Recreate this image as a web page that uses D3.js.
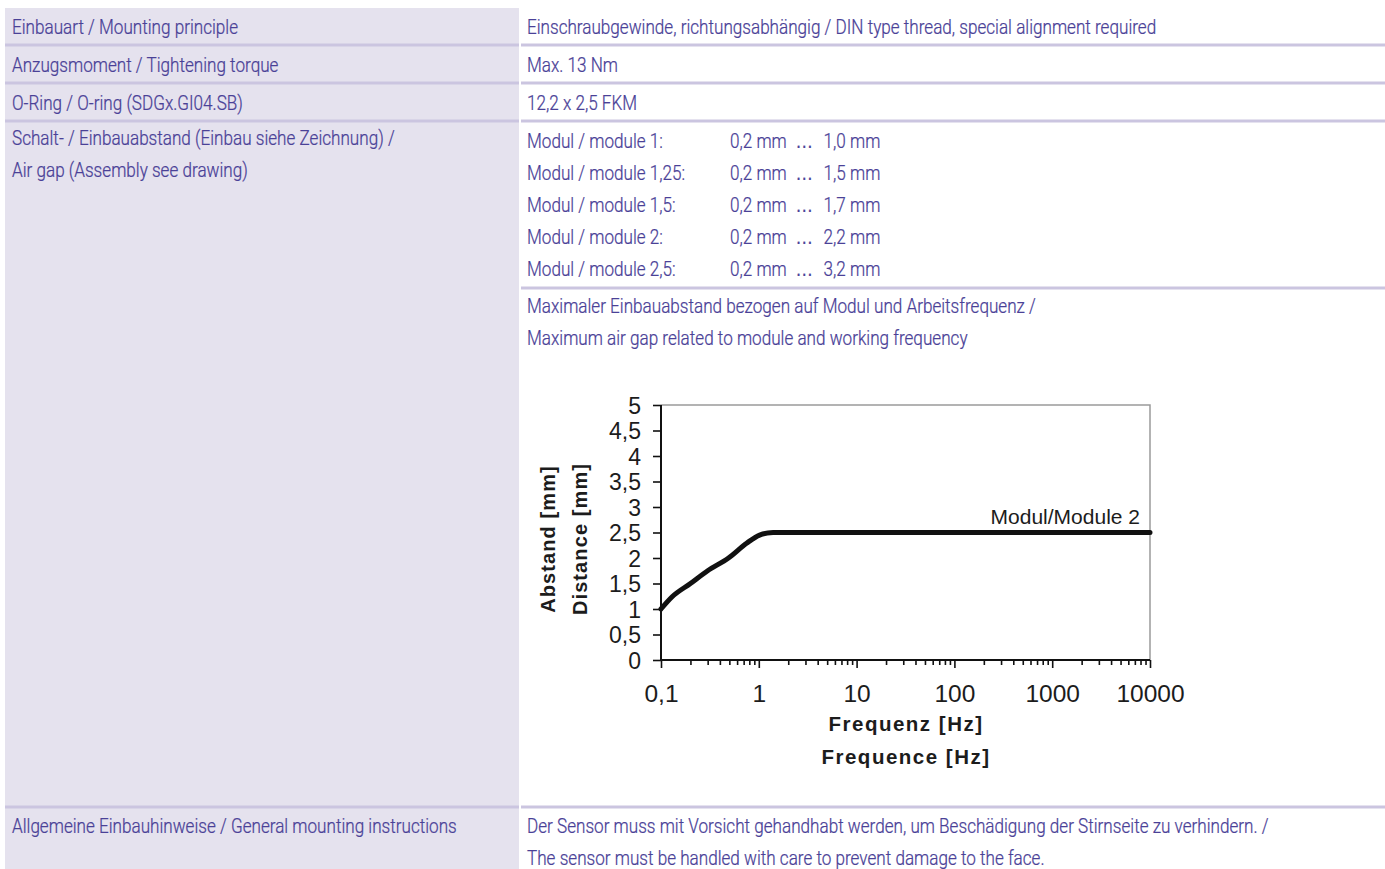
<!DOCTYPE html>
<html>
<head>
<meta charset="utf-8">
<script src="https://cdn.jsdelivr.net/npm/d3@7"></script>
<style>
  html, body { margin: 0; padding: 0; background: #fff; }
  svg { display: block; }
  .cell { font-family: Roboto, "Liberation Sans", sans-serif; font-weight: 300; font-size: 20px; fill: #4a4197; stroke: #4a4197; stroke-width: 0.25; }
  .chart text { font-family: "Liberation Sans", Arial, sans-serif; fill: #1c1c1c; }
</style>
</head>
<body>
<svg width="1385" height="869"></svg>
<script>
// table content
const rowLabels = [
  ["Einbauart / Mounting principle"],
  ["Anzugsmoment / Tightening torque"],
  ["O-Ring / O-ring (SDGx.GI04.SB)"],
  ["Schalt- / Einbauabstand (Einbau siehe Zeichnung) /", "Air gap (Assembly see drawing)"],
  ["Allgemeine Einbauhinweise / General mounting instructions"]
];
const rowValues = [
  ["Einschraubgewinde, richtungsabhängig / DIN type thread, special alignment required"],
  ["Max. 13 Nm"],
  ["12,2 x 2,5 FKM"],
  [],
  ["Der Sensor muss mit Vorsicht gehandhabt werden, um Beschädigung der Stirnseite zu verhindern. /",
   "The sensor must be handled with care to prevent damage to the face."]
];
const moduleNames = ["Modul / module 1:", "Modul / module 1,25:", "Modul / module 1,5:", "Modul / module 2:", "Modul / module 2,5:"];
const gapMin = ["0,2 mm", "0,2 mm", "0,2 mm", "0,2 mm", "0,2 mm"];
const gapMax = ["1,0 mm", "1,5 mm", "1,7 mm", "2,2 mm", "3,2 mm"];
const chartCaption = ["Maximaler Einbauabstand bezogen auf Modul und Arbeitsfrequenz /",
                      "Maximum air gap related to module and working frequency"];

// chart data: Modul/Module 2
const frequency = [0.1, 0.13, 0.2, 0.3, 0.49, 0.75, 1.02, 1.4, 10000];
const airGap    = [1.0, 1.24, 1.5, 1.75, 2.0, 2.29, 2.45, 2.5, 2.5];
const yTicks = [0, 0.5, 1, 1.5, 2, 2.5, 3, 3.5, 4, 4.5, 5];
const xLabels = ["0,1", "1", "10", "100", "1000", "10000"];

const svg = d3.select("svg");
const lineColor = "#cbc5e0";
const leftX = 5, colX = 519, rightX = 521, W = 1385;
const rowLines = [45, 83, 121, 807];

// left column background
svg.append("rect")
  .attr("x", leftX).attr("y", 8)
  .attr("width", colX - leftX).attr("height", 869 - 8)
  .attr("fill", "#e5e2ee");

rowLines.forEach(y => {
  svg.append("rect").attr("x", leftX).attr("y", y - 1.5).attr("width", colX - leftX).attr("height", 3).attr("fill", lineColor);
  svg.append("rect").attr("x", rightX).attr("y", y - 1.5).attr("width", W - rightX).attr("height", 3).attr("fill", lineColor);
});
svg.append("rect").attr("x", rightX).attr("y", 286.5).attr("width", W - rightX).attr("height", 3).attr("fill", lineColor);

// condensed look: measure one label and squeeze all table text alike
const probe = svg.append("text").attr("class", "cell").text(rowLabels[0][0]);
const squeeze = 226 / probe.node().getComputedTextLength();
probe.remove();

const rowCenters = [27, 65, 103, 138, 826];
const lineGap = 32;
function cell(t, x0, c) {
  return svg.append("text").attr("class", "cell")
    .attr("transform", `translate(${x0},${c + 7}) scale(${squeeze},1)`)
    .text(t);
}

rowLabels.forEach((lines, i) => lines.forEach((t, j) => cell(t, 12, rowCenters[i] + j * lineGap)));
rowValues.forEach((lines, i) => lines.forEach((t, j) => cell(t, 527, rowCenters[i] + j * lineGap)));
moduleNames.forEach((t, i) => {
  cell(t, 527, 141 + i * lineGap);
  const r = cell(gapMin[i], 730, 141 + i * lineGap);
  r.append("tspan").attr("dx", 10).attr("font-family", "Liberation Sans, sans-serif")
    .attr("font-size", 21).text("…");
  r.append("tspan").attr("dx", 12).text(gapMax[i]);
});
chartCaption.forEach((t, i) => cell(t, 527, 306 + i * lineGap));

// ---- chart ----
const chart = svg.append("g").attr("class", "chart");
const x = d3.scaleLog().domain([0.1, 10000]).range([661, 1150]);
const y = d3.scaleLinear().domain([0, 5]).range([660, 405]);

// frame (top and right, grey)
chart.append("path")
  .attr("d", `M${x(0.1)},${y(5)}H${x(10000)}V${y(0)}`)
  .attr("fill", "none").attr("stroke", "#9a9a9a").attr("stroke-width", 1.5);

const isMajor = v => Math.abs(Math.log10(v) - Math.round(Math.log10(v))) < 1e-9;

const yAxis = chart.append("g")
  .attr("transform", `translate(${x(0.1)},0)`)
  .call(d3.axisLeft(y).tickValues(yTicks).tickSize(8).tickPadding(12)
    .tickFormat(d => String(d).replace(".", ",")));

const xAxis = chart.append("g")
  .attr("transform", `translate(0,${y(0)})`)
  .call(d3.axisBottom(x).tickValues(x.ticks()).tickSize(5).tickPadding(20)
    .tickFormat(d => isMajor(d) ? xLabels[Math.round(Math.log10(d)) + 1] : ""));
xAxis.selectAll(".tick line").attr("y2", d => isMajor(d) ? 8 : 5);

[yAxis, xAxis].forEach(a => {
  a.select(".domain").attr("stroke", "#111").attr("stroke-width", 2);
  a.selectAll(".tick line").attr("stroke", "#111").attr("stroke-width", 1.6);
  a.selectAll("text").attr("fill", "#1c1c1c")
    .attr("font-family", "Liberation Sans, Arial, sans-serif");
});
yAxis.selectAll("text").attr("font-size", 23).attr("dy", "0.36em");
xAxis.selectAll("text").attr("font-size", 24.5);
yAxis.select(".domain").attr("d", `M0,${y(0)}V${y(5)}`);
xAxis.select(".domain").attr("d", `M${x(0.1)},0H${x(10000)}`);

// curve
const line = d3.line()
  .x((d, i) => x(frequency[i]))
  .y(d => y(d))
  .curve(d3.curveMonotoneX);
chart.append("path")
  .datum(airGap)
  .attr("d", line)
  .attr("fill", "none").attr("stroke", "#111").attr("stroke-width", 5)
  .attr("stroke-linejoin", "round").attr("stroke-linecap", "round");

chart.append("text")
  .attr("x", 1140).attr("y", 524).attr("text-anchor", "end")
  .attr("font-size", 21).text("Modul/Module 2");

// axis titles
const xTitles = ["Frequenz [Hz]", "Frequence [Hz]"];
xTitles.forEach((t, i) => {
  chart.append("text")
    .attr("x", 906).attr("y", 731 + i * 33).attr("text-anchor", "middle")
    .attr("font-size", 20.5).attr("font-weight", "bold").attr("letter-spacing", 1.5)
    .text(t);
});
const yTitles = ["Abstand [mm]", "Distance [mm]"];
yTitles.forEach((t, i) => {
  chart.append("text")
    .attr("transform", `translate(${555 + i * 32},${539}) rotate(-90)`)
    .attr("text-anchor", "middle")
    .attr("font-size", 20).attr("font-weight", "bold").attr("letter-spacing", 1.1)
    .text(t);
});
</script>
</body>
</html>
